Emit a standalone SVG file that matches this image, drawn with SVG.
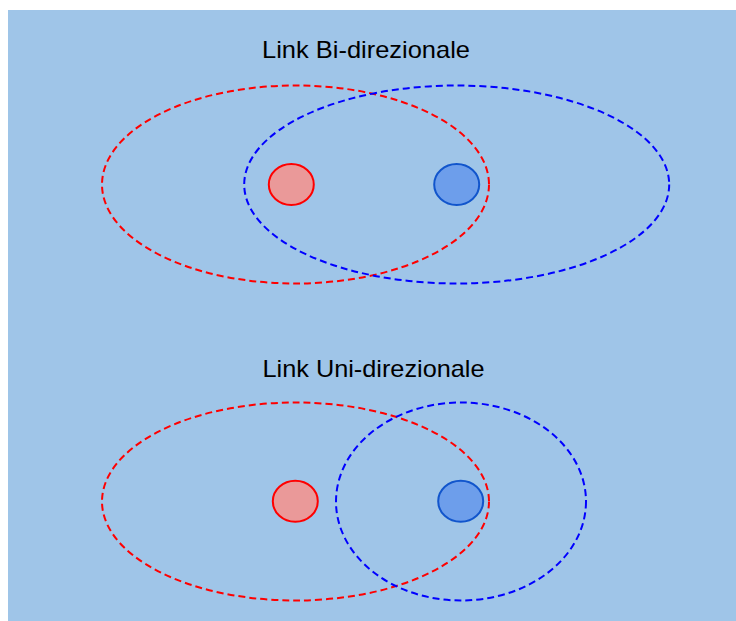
<svg xmlns="http://www.w3.org/2000/svg" width="736" height="621" viewBox="0 0 736 621">
  <style>
    .bg { fill: #9fc5e8; }
    .title { font-family: "Liberation Sans", Arial, sans-serif; font-size: 24px; fill: #000000; }
    .range { fill: none; stroke-width: 2; stroke-dasharray: 7 4; }
    .range-red { stroke: #ff0000; }
    .range-blue { stroke: #0000ff; }
    .node-red { fill: #ea9999; stroke: #ff0000; stroke-width: 2; }
    .node-blue { fill: #6d9eeb; stroke: #1155cc; stroke-width: 2; }
  </style>

  <rect class="bg" x="8" y="10" width="728" height="611"/>

  <!-- Bidirectional link: both ranges cover the other node -->
  <text class="title" x="262" y="57.5" textLength="208" lengthAdjust="spacingAndGlyphs">Link Bi-direzionale</text>
  <g id="connectors-bi">
    <ellipse class="range range-red" cx="295.5" cy="184.5" rx="193.5" ry="99"/>
    <ellipse class="range range-blue" cx="456.7" cy="184.5" rx="212.5" ry="99"/>
  </g>
  <g id="node-bi-red">
    <ellipse class="node-red" cx="291.3" cy="184.5" rx="22.5" ry="20.5"/>
  </g>
  <g id="node-bi-blue">
    <ellipse class="node-blue" cx="456.7" cy="184.5" rx="22.5" ry="20.5"/>
  </g>

  <!-- Unidirectional link: only the red range reaches the blue node -->
  <text class="title" x="262.5" y="377.3" textLength="222" lengthAdjust="spacingAndGlyphs">Link Uni-direzionale</text>
  <g id="connectors-uni">
    <ellipse class="range range-red" cx="295.5" cy="501.5" rx="193.5" ry="99"/>
    <ellipse class="range range-blue" cx="461" cy="501.5" rx="125" ry="99"/>
  </g>
  <g id="node-uni-red">
    <ellipse class="node-red" cx="295.3" cy="501.3" rx="22.5" ry="20.5"/>
  </g>
  <g id="node-uni-blue">
    <ellipse class="node-blue" cx="460.7" cy="501.3" rx="22.5" ry="20.5"/>
  </g>
</svg>
